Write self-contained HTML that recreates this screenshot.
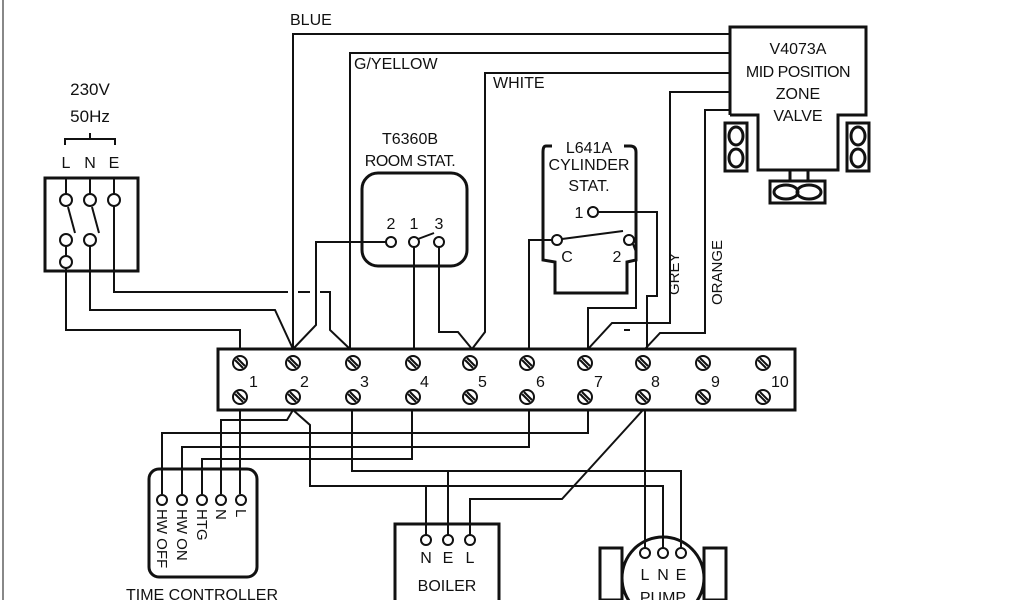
<!DOCTYPE html>
<html><head><meta charset="utf-8"><style>
html,body{margin:0;padding:0;background:#fff;}
svg{display:block;}
text{font-family:"Liberation Sans",sans-serif;fill:#111;}
</style></head><body>
<svg width="1024" height="600" viewBox="0 0 1024 600" xmlns="http://www.w3.org/2000/svg">
<defs>
<g id="s" stroke="#111" stroke-width="2" fill="#fff"><circle r="7"/><line x1="-5" y1="-3" x2="3" y2="5"/><line x1="-3" y1="-5" x2="5" y2="3"/></g>
</defs>
<g fill="none" stroke="#111" stroke-width="2" stroke-linejoin="miter">
<line x1="3" y1="0" x2="3" y2="600" stroke="#888"/>
<polyline points="293,349 293,34 730,34"/>
<polyline points="350,349 350,53 730,53"/>
<polyline points="472,349 485,332 485,73 730,73"/>
<polyline points="588,349 612,323 670,323 670,92 730,92"/>
<polyline points="645,349 660,333 705,333 705,110 730,110"/>
<g stroke-width="3">
<polyline points="730,115 730,27 866,27 866,115 838,115 838,170 758,170 758,115 730,115"/>
<rect x="725" y="123" width="22" height="48"/>
<rect x="847" y="123" width="22" height="48"/>
<rect x="770" y="181" width="55" height="22"/>
<line x1="790" y1="170" x2="790" y2="181"/><line x1="808" y1="170" x2="808" y2="181"/>
<ellipse cx="736" cy="136" rx="7" ry="9"/><ellipse cx="736" cy="158" rx="7" ry="9"/>
<ellipse cx="858" cy="136" rx="7" ry="9"/><ellipse cx="858" cy="158" rx="7" ry="9"/>
<ellipse cx="786" cy="192" rx="12" ry="7"/><ellipse cx="809" cy="192" rx="12" ry="7"/>
</g>
<polyline points="65,145 65,139 115,139 115,145"/><line x1="90" y1="139" x2="90" y2="133"/>
<rect x="45" y="178" width="93" height="93" stroke-width="3"/>
<line x1="66" y1="178" x2="66" y2="194"/><line x1="90" y1="178" x2="90" y2="194"/><line x1="114" y1="178" x2="114" y2="194"/>
<circle cx="66" cy="200" r="6"/><circle cx="90" cy="200" r="6"/><circle cx="114" cy="200" r="6"/>
<line x1="68" y1="207" x2="75" y2="233"/><line x1="92" y1="207" x2="99" y2="233"/>
<circle cx="66" cy="240" r="6"/><circle cx="90" cy="240" r="6"/><circle cx="66" cy="262" r="6"/>
<line x1="66" y1="246" x2="66" y2="256"/>
<polyline points="66,268 66,330 240,330 240,349"/>
<polyline points="90,246 90,310 275,310 293,349"/>
<polyline points="114,206 114,292 288,292"/>
<line x1="298" y1="292" x2="310" y2="292"/>
<polyline points="320,292 330,292 330,330 350,349"/>
<rect x="362" y="173" width="105" height="93" rx="16" stroke-width="3"/>
<circle cx="391" cy="242" r="5"/><circle cx="414" cy="242" r="5"/><circle cx="439" cy="242" r="5"/>
<line x1="418" y1="239" x2="434" y2="233"/>
<polyline points="386,242 316,242 316,325 293,349"/>
<line x1="414" y1="247" x2="414" y2="349"/>
<polyline points="439,247 439,332 458,332 472,349"/>
<path d="M552,146 L546,146 Q543,146 543,152 L543,260 L555,262 L555,293 L627,293 L627,262 L636,260 L636,152 Q636,146 630,146 L624,146" stroke-width="3"/>
<circle cx="593" cy="212" r="5"/>
<polyline points="598,212 657,212 657,296 647,296 647,349"/>
<circle cx="557" cy="240" r="5"/><circle cx="629" cy="240" r="5"/>
<line x1="562" y1="239" x2="623" y2="231"/>
<polyline points="552,240 529,240 529,349"/>
<polyline points="633,244 636,252 636,308 588,308 588,349"/>
<line x1="624" y1="330" x2="630" y2="330"/>
<rect x="218" y="349" width="577" height="61" stroke-width="3"/>
<line x1="240" y1="410" x2="240" y2="494"/>
<polyline points="221,494 221,420 287,420 293,410"/>
<polyline points="202,494 202,459 412,459 412,410"/>
<polyline points="182,494 182,447 529,447 529,410"/>
<polyline points="162,494 162,433 588,433 588,410"/>
<polyline points="293,410 310,425 310,486 663,486 663,548"/>
<polyline points="352,410 352,471 681,471 681,548"/>
<line x1="426" y1="486" x2="426" y2="535"/>
<line x1="448" y1="471" x2="448" y2="535"/>
<polyline points="470,535 470,499 562,499 643,410"/>
<line x1="645" y1="410" x2="645" y2="548"/>
<rect x="149" y="469" width="108" height="108" rx="10" stroke-width="3"/>
<circle cx="162" cy="500" r="5"/><circle cx="182" cy="500" r="5"/><circle cx="202" cy="500" r="5"/><circle cx="221" cy="500" r="5"/><circle cx="241" cy="500" r="5"/>
<polyline points="395,600 395,524 499,524 499,600" stroke-width="3"/>
<circle cx="426" cy="540" r="5"/><circle cx="448" cy="540" r="5"/><circle cx="470" cy="540" r="5"/>
<circle cx="663" cy="578" r="41" stroke-width="3"/>
<rect x="600" y="548" width="22" height="52" stroke-width="3"/>
<rect x="704" y="548" width="22" height="52" stroke-width="3"/>
<circle cx="645" cy="553" r="5"/><circle cx="663" cy="553" r="5"/><circle cx="681" cy="553" r="5"/>
</g>
<use href="#s" x="240" y="363"/><use href="#s" x="293" y="363"/><use href="#s" x="353" y="363"/><use href="#s" x="413" y="363"/><use href="#s" x="470" y="363"/><use href="#s" x="527" y="363"/><use href="#s" x="585" y="363"/><use href="#s" x="643" y="363"/><use href="#s" x="703" y="363"/><use href="#s" x="763" y="363"/>
<use href="#s" x="240" y="397"/><use href="#s" x="293" y="397"/><use href="#s" x="353" y="397"/><use href="#s" x="413" y="397"/><use href="#s" x="470" y="397"/><use href="#s" x="527" y="397"/><use href="#s" x="585" y="397"/><use href="#s" x="643" y="397"/><use href="#s" x="703" y="397"/><use href="#s" x="763" y="397"/>
<g font-size="16">
<text x="249" y="387">1</text><text x="300" y="387">2</text><text x="360" y="387">3</text><text x="420" y="387">4</text><text x="478" y="387">5</text><text x="536" y="387">6</text><text x="594" y="387">7</text><text x="651" y="387">8</text><text x="711" y="387">9</text><text x="771" y="387">10</text>
</g>
<g font-size="16" text-anchor="middle">
<text x="90" y="95" font-size="17">230V</text><text x="90" y="122" font-size="17">50Hz</text>
<text x="66" y="168">L</text><text x="90" y="168">N</text><text x="114" y="168">E</text>
<text x="290" y="25" text-anchor="start">BLUE</text>
<text x="354" y="69" text-anchor="start">G/YELLOW</text>
<text x="493" y="88" text-anchor="start">WHITE</text>
<text x="410" y="144">T6360B</text><text x="410" y="166" letter-spacing="-0.5">ROOM STAT.</text>
<text x="391" y="229">2</text><text x="414" y="229">1</text><text x="439" y="229">3</text>
<text x="589" y="153">L641A</text><text x="589" y="170">CYLINDER</text><text x="589" y="191">STAT.</text>
<text x="579" y="218">1</text><text x="567" y="262">C</text><text x="617" y="262">2</text>
<text x="798" y="54">V4073A</text><text x="798" y="77" letter-spacing="-0.5">MID POSITION</text><text x="798" y="99">ZONE</text><text x="798" y="121">VALVE</text>
<text x="426" y="563">N</text><text x="448" y="563">E</text><text x="470" y="563">L</text>
<text x="447" y="591">BOILER</text>
<text x="645" y="580">L</text><text x="663" y="580">N</text><text x="681" y="580">E</text>
<text x="663" y="603">PUMP</text>
<text x="202" y="600">TIME CONTROLLER</text>
</g>
<g font-size="15">
<text transform="translate(679,295) rotate(-90)">GREY</text>
<text transform="translate(722,305) rotate(-90)">ORANGE</text>
<text transform="translate(157,509) rotate(90)">HW OFF</text>
<text transform="translate(177,509) rotate(90)">HW ON</text>
<text transform="translate(197,509) rotate(90)">HTG</text>
<text transform="translate(216,509) rotate(90)">N</text>
<text transform="translate(236,509) rotate(90)">L</text>
</g>
</svg>
</body></html>
